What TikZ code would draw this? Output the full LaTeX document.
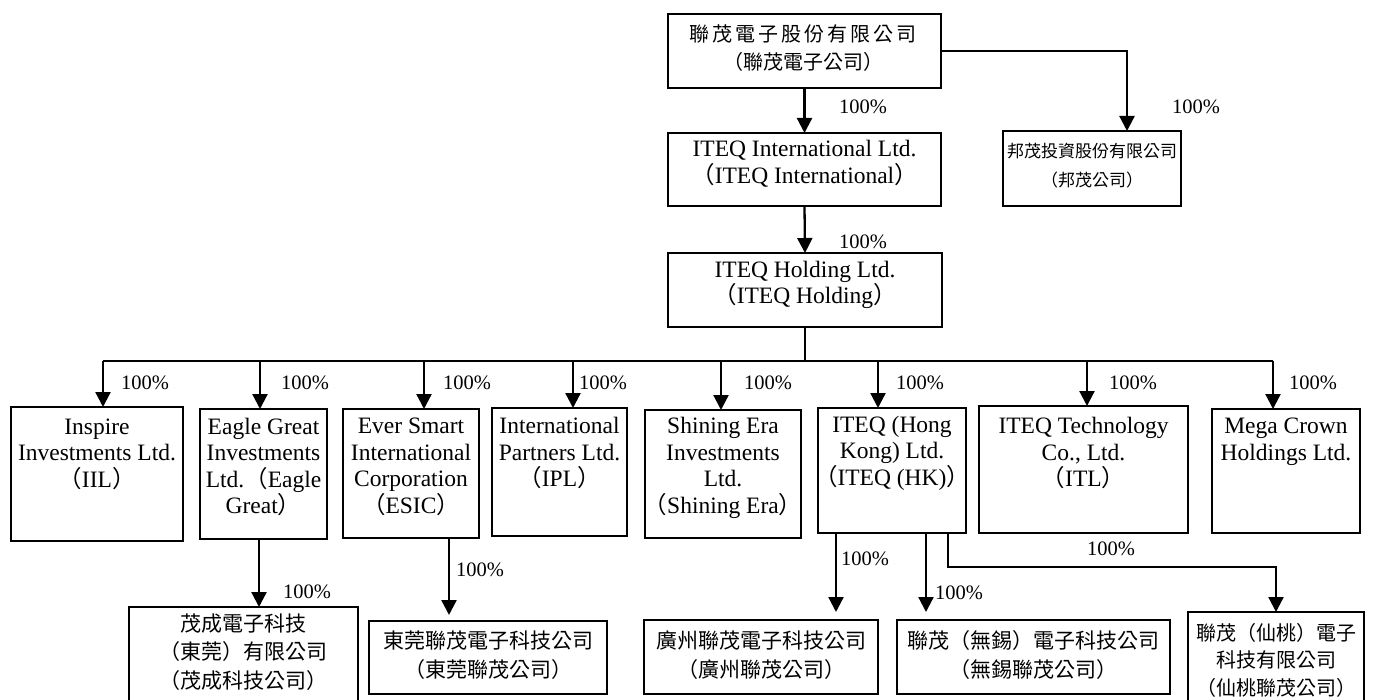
\documentclass[tikz,border=0pt]{standalone}
\usepackage{fontspec}
\setmainfont{Liberation Serif}
\newfontfamily\cjk{Noto Sans CJK TC}
\usetikzlibrary{arrows.meta}
\newcommand\lpar{{\cjk （}}
\newcommand\rpar{{\cjk ）}}
\newcommand\mkbox[5]{%
  \pgfmathsetmacro\bxcx{(#2+#4)/2}\pgfmathsetmacro\bxcy{(#3+#5)/2}%
  \pgfmathsetmacro\bxw{#4-#2}\pgfmathsetmacro\bxh{#5-#3}%
  \node[box,minimum width=\bxw pt,minimum height=\bxh pt] (#1) at (\bxcx,\bxcy) {};}
\tikzset{
  box/.style={draw,line width=2pt,inner sep=0pt,outer sep=0pt},
  txt/.style={align=center,inner sep=0pt,font=\fontsize{23.5}{26.5}\selectfont},
  ctxt/.style={align=center,inner sep=0pt,font=\cjk\fontsize{21}{28.5}\selectfont},
  pct/.style={inner sep=0pt,font=\fontsize{20.5}{24}\selectfont},
  arr/.style={line width=2.3pt,-{Triangle[width=15pt,length=15pt]}},
  conn/.style={line width=2pt},
  thinconn/.style={line width=1.3pt}
}
\begin{document}
\begin{tikzpicture}[x=1pt,y=-1pt]
\useasboundingbox (0,0) rectangle (1373,700);
% boxes
\mkbox{top}{668}{14}{941}{88}
\mkbox{intl}{668}{133}{941}{206}
\mkbox{bang}{1003}{131}{1181}{206}
\mkbox{hold}{668}{253}{942}{327}
\mkbox{iil}{11}{407}{183}{541}
\mkbox{eagle}{200}{409}{327}{539}
\mkbox{esic}{343}{409}{479}{538}
\mkbox{ipl}{492}{408}{627}{536}
\mkbox{shin}{645}{410}{801}{538}
\mkbox{hk}{818}{408}{966}{533}
\mkbox{itl}{979}{406}{1188}{533}
\mkbox{mega}{1212}{409}{1360}{533}
\mkbox{mc}{129}{607}{358}{706}
\mkbox{dg}{369}{621}{607}{694}
\mkbox{gz}{644}{620}{878}{694}
\mkbox{wx}{897}{620}{1170}{694}
\mkbox{xt}{1188}{612}{1364}{706}
% texts
\node[ctxt,font=\cjk\fontsize{20}{28.5}\selectfont] (ttop) at (803,48) {{\addfontfeature{LetterSpace=15}聯茂電子股份有限公司}\\（聯茂電子公司）};
\node[txt] (tintl) at (804.5,164) {ITEQ International Ltd.\\\lpar ITEQ International\rpar};
\node[ctxt,font=\cjk\fontsize{17}{29}\selectfont] (tbang) at (1092,166) {邦茂投資股份有限公司\\（邦茂公司）};
\node[txt] (thold) at (805,285) {ITEQ Holding Ltd.\\\lpar ITEQ Holding\rpar};
\node[txt] (tiil) at (97,454) {Inspire\\Investments Ltd.\\\lpar IIL\rpar};
\node[txt] (teagle) at (263.5,467) {Eagle Great\\Investments\\Ltd.\lpar Eagle\\Great\rpar};
\node[txt] (tesic) at (411,467) {Ever Smart\\International\\Corporation\\\lpar ESIC\rpar};
\node[txt] (tipl) at (559.5,453) {International\\Partners Ltd.\\\lpar IPL\rpar};
\node[txt] (tshin) at (723,468) {Shining Era\\Investments\\Ltd.\\\lpar Shining Era\rpar};
\node[txt] (thk) at (892,453) {ITEQ (Hong\\Kong) Ltd.\\\lpar ITEQ (HK)\rpar};
\node[txt] (titl) at (1083.5,453) {ITEQ Technology\\Co., Ltd.\\\lpar ITL\rpar};
\node[txt] (tmega) at (1286,442) {Mega Crown\\Holdings Ltd.};
\node[ctxt] (tmc) at (243.5,652) {茂成電子科技\\（東莞）有限公司\\（茂成科技公司）};
\node[ctxt] (tdg) at (488,655) {東莞聯茂電子科技公司\\（東莞聯茂公司）};
\node[ctxt] (tgz) at (761,655) {廣州聯茂電子科技公司\\（廣州聯茂公司）};
\node[ctxt] (twx) at (1033.5,655) {聯茂（無錫）電子科技公司\\（無錫聯茂公司）};
\node[ctxt,font=\cjk\fontsize{20}{27.5}\selectfont] (txt) at (1276,660) {聯茂（仙桃）電子\\科技有限公司\\（仙桃聯茂公司）};
% coordinates
\coordinate (bangin) at (1127,131);
\coordinate (b1) at (103,361);
\coordinate (b2) at (260,361);
\coordinate (b3) at (424,361);
\coordinate (b4) at (573,361);
\coordinate (b5) at (721,361);
\coordinate (b6) at (878,361);
\coordinate (b7) at (1087,361);
\coordinate (b8) at (1273,361);
\coordinate (mcin) at (259,607);
\coordinate (dgin) at (449,615);
\coordinate (gzin) at (836,612);
\coordinate (wxin) at (926,612);
\coordinate (hkout) at (948,567);
\coordinate (xtin) at (1276,612);
% connectors
\draw[arr] (top.south) -- (intl.north);
\draw[arr] (top.east) -| (bangin);
\draw[arr] (intl.south) -- (hold.north);
\draw[thinconn] (hold.south) -- (hold.south |- b1);
\draw[conn] (b1) -- (b8);
\draw[arr] (b1) -- (b1 |- iil.north);
\draw[arr] (b2) -- (b2 |- eagle.north);
\draw[arr] (b3) -- (b3 |- esic.north);
\draw[arr] (b4) -- (b4 |- ipl.north);
\draw[arr] (b5) -- (b5 |- shin.north);
\draw[arr] (b6) -- (b6 |- hk.north);
\draw[arr] (b7) -- (b7 |- itl.north);
\draw[arr] (b8) -- (b8 |- mega.north);
\draw[arr] (eagle.south -| mcin) -- (mcin);
\draw[arr] (esic.south -| dgin) -- (dgin);
\draw[arr] (hk.south -| gzin) -- (gzin);
\draw[arr] (hk.south -| wxin) -- (wxin);
\draw[arr] (hk.south -| hkout) -- (hkout) -| (xtin);
% labels
\node[pct] (p1) at (863,107) {100\%};
\node[pct] (p2) at (1196,107) {100\%};
\node[pct] (p3) at (863,242) {100\%};
\node[pct] (p4) at (145,383) {100\%};
\node[pct] (p5) at (305,383) {100\%};
\node[pct] (p6) at (467,383) {100\%};
\node[pct] (p7) at (603,383) {100\%};
\node[pct] (p8) at (768,383) {100\%};
\node[pct] (p9) at (920,383) {100\%};
\node[pct] (p10) at (1133,383) {100\%};
\node[pct] (p11) at (1313,383) {100\%};
\node[pct] (p12) at (307,592) {100\%};
\node[pct] (p13) at (480,570) {100\%};
\node[pct] (p14) at (865,559) {100\%};
\node[pct] (p15) at (959,593) {100\%};
\node[pct] (p16) at (1111,549) {100\%};
\end{tikzpicture}
\end{document}
